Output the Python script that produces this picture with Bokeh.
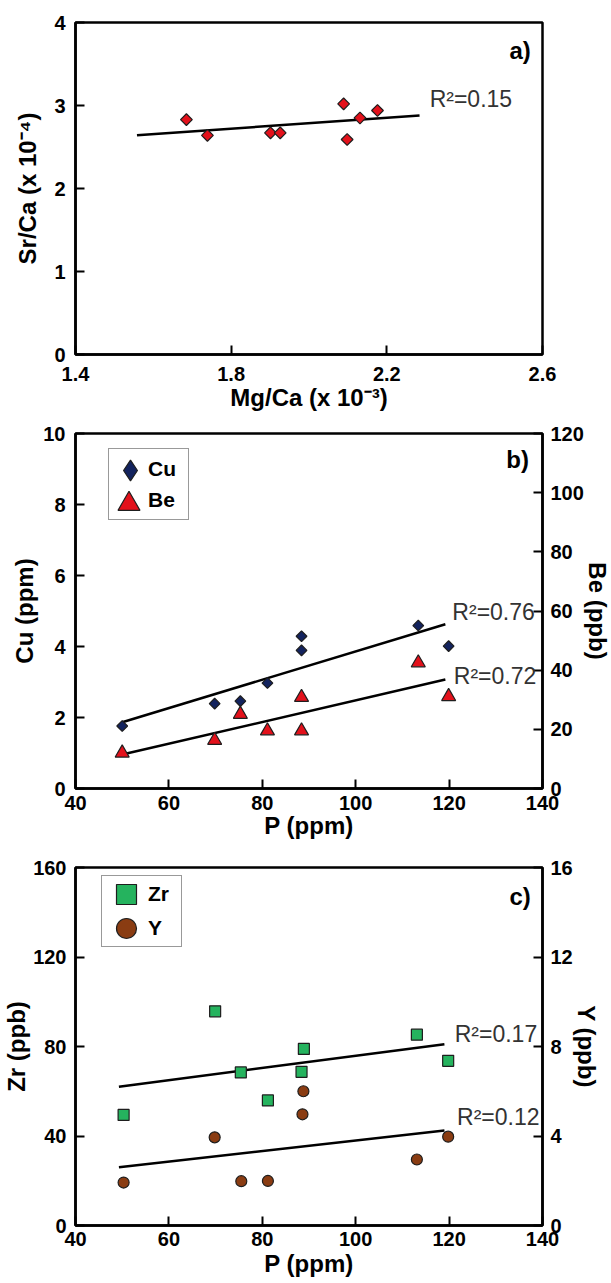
import numpy as np
from bokeh.plotting import figure
from bokeh.models import Range1d, LinearAxis, FixedTicker, Label, Legend, LegendItem
from bokeh.layouts import column
from bokeh.embed import file_html
from bokeh.resources import INLINE

# ---------------- data ----------------
# panel a
mg_ca = [1.685, 1.739, 1.901, 1.926, 2.089, 2.098, 2.131, 2.176]
sr_ca = [2.83, 2.64, 2.67, 2.67, 3.02, 2.59, 2.85, 2.94]
trend_a_x = [1.558, 2.284]
ticks_a_x = [1.4, 1.8, 2.2, 2.6]
ticks_a_y = [0, 1, 2, 3, 4]

# panel b
p_cu = [50.0, 69.8, 75.3, 81.1, 88.4, 88.4, 113.4, 119.9]
cu = [1.76, 2.39, 2.46, 2.97, 3.89, 4.29, 4.59, 4.01]
p_be = [50.0, 69.8, 75.3, 81.1, 88.4, 88.4, 113.4, 119.9]
be = [12.0, 16.3, 25.1, 19.5, 30.8, 19.5, 42.5, 31.1]
trend_b_x = [50.0, 119.2]
ticks_p = [40, 60, 80, 100, 120, 140]
ticks_cu = [0, 2, 4, 6, 8, 10]
ticks_be = [0, 20, 40, 60, 80, 100, 120]

# panel c
p_zr = [50.3, 69.9, 75.4, 81.2, 88.4, 88.9, 113.1, 119.8]
zr = [49.4, 95.7, 68.4, 55.9, 68.7, 78.9, 85.3, 73.6]
p_y = [50.3, 69.8, 75.5, 81.2, 88.6, 88.8, 113.1, 119.8]
y_ppb = [1.92, 3.94, 1.98, 1.99, 4.97, 6.0, 2.95, 3.97]
trend_c_x = [49.3, 119.0]
ticks_zr = [0, 40, 80, 120, 160]
ticks_y = [0, 4, 8, 12, 16]

r2_text = {"a": ["R²=0.15"], "b": ["R²=0.76", "R²=0.72"], "c": ["R²=0.17", "R²=0.12"]}

# ---------------- style ----------------
FONT = "Liberation Sans"
RED = "#e3111b"
NAVY = "#13235e"
GREEN = "#25b35e"
BROWN = "#8a3c12"
EDGE = "#1e1e1e"
FW = 467


def style_axis(ax, ticks, label_standoff=9, title_standoff=0):
    ax.ticker = FixedTicker(ticks=ticks)
    ax.axis_line_width = 2.5
    ax.axis_line_color = "black"
    ax.major_tick_in = 9
    ax.major_tick_out = 0
    ax.major_tick_line_width = 2
    ax.major_tick_line_color = "black"
    ax.minor_tick_in = 0
    ax.minor_tick_out = 0
    ax.major_label_text_font = FONT
    ax.major_label_text_font_style = "bold"
    ax.major_label_text_font_size = "20px"
    ax.major_label_text_color = "black"
    ax.major_label_standoff = label_standoff
    ax.axis_label_text_font = FONT
    ax.axis_label_text_font_style = "bold"
    ax.axis_label_text_font_size = "24px"
    ax.axis_label_text_color = "black"
    ax.axis_label_standoff = title_standoff


def make_fig(xr, yr, fh, top, bottom):
    p = figure(frame_width=FW, frame_height=fh,
               x_range=Range1d(*xr), y_range=Range1d(*yr),
               output_backend="svg", toolbar_location=None,
               min_border_left=75, min_border_right=68,
               min_border_top=top, min_border_bottom=bottom)
    p.grid.visible = False
    p.outline_line_color = "black"
    p.outline_line_width = 2.5
    p.outline_line_alpha = 1
    p.background_fill_color = "white"
    p.border_fill_color = "white"
    return p


def add_label(p, x, y, text, size="23px", bold=False, align="left", color="#333333"):
    p.add_layout(Label(x=x, y=y, text=text, text_font=FONT, text_font_size=size,
                       text_font_style="bold" if bold else "normal",
                       text_align=align, text_baseline="middle", text_color=color))


def trend(x, y, xs):
    coef = np.polyfit(x, y, 1)
    return list(np.polyval(coef, xs))


def text_legend(labels, loc, pad, gw, gh, standoff, lw):
    # framed box holding the legend texts
    return Legend(items=[LegendItem(label=t, renderers=[]) for t in labels],
                  location=loc, glyph_width=gw, glyph_height=gh, spacing=0,
                  padding=pad, margin=0, label_standoff=standoff, label_width=lw,
                  border_line_color="#333333", border_line_width=1.5,
                  background_fill_color="white", background_fill_alpha=1,
                  label_text_font=FONT, label_text_font_style="bold",
                  label_text_font_size="21px", label_text_color="black")


def key_legend(renderer, loc, g):
    # transparent legend that only draws the large marker key
    return Legend(items=[LegendItem(label="", renderers=[renderer])],
                  location=loc, glyph_width=g, glyph_height=g, spacing=0,
                  padding=0, margin=0, label_standoff=0, label_width=0, label_height=0,
                  border_line_alpha=0, background_fill_alpha=0,
                  label_text_font_size="1px")


# ---------------- panel a ----------------
pa = make_fig((1.4, 2.6), (0, 4), 332, 22, 62)
pa.xaxis.axis_label = "Mg/Ca (x 10⁻³)"
pa.yaxis.axis_label = "Sr/Ca (x 10⁻⁴)"
style_axis(pa.xaxis[0], ticks_a_x, label_standoff=12, title_standoff=0)
style_axis(pa.yaxis[0], ticks_a_y, label_standoff=10, title_standoff=10)
pa.line(trend_a_x, trend(mg_ca, sr_ca, trend_a_x), line_color="black", line_width=2.5)
pa.scatter(mg_ca, sr_ca, marker="square", angle=np.pi / 4, size=8.3,
           fill_color=RED, line_color=EDGE, line_width=1.2)
add_label(pa, 2.31, 3.08, r2_text["a"][0])
add_label(pa, 2.57, 3.66, "a)", size="24px", bold=True, align="right", color="black")

# ---------------- panel b ----------------
pb = make_fig((40, 140), (0, 10), 355, 17, 62)
pb.extra_y_ranges = {"be": Range1d(0, 120)}
pb.xaxis.axis_label = "P (ppm)"
pb.yaxis.axis_label = "Cu (ppm)"
style_axis(pb.xaxis[0], ticks_p, label_standoff=7, title_standoff=-1)
style_axis(pb.yaxis[0], ticks_cu, label_standoff=10, title_standoff=2)
ax_be = LinearAxis(y_range_name="be", axis_label="Be (ppb)")
style_axis(ax_be, ticks_be, label_standoff=8, title_standoff=-3)
pb.add_layout(ax_be, "right")
pb.line(trend_b_x, trend(p_cu, cu, trend_b_x), line_color="black", line_width=2.5)
pb.line(trend_b_x, trend(p_be, be, trend_b_x), line_color="black", line_width=2.5, y_range_name="be")
r_cu = pb.scatter(p_cu, cu, marker="square", angle=np.pi / 4, size=7.6,
                  fill_color=NAVY, line_color=EDGE, line_width=1.2)
r_be = pb.scatter(p_be, be, marker="triangle", size=14, y_range_name="be",
                  fill_color=RED, line_color=EDGE, line_width=1.2)
r_cu_key = pb.scatter(p_cu, cu, marker="diamond", visible=False,
                      fill_color=NAVY, line_color=EDGE, line_width=1.2)
add_label(pb, 120.7, 4.98, r2_text["b"][0])
add_label(pb, 121.0, 3.18, r2_text["b"][1])
add_label(pb, 137.1, 9.28, "b)", size="24px", bold=True, align="right", color="black")
pb.add_layout(text_legend(["Cu", "Be"], (33, 268), 4, 31, 31, 4, 36))
pb.add_layout(key_legend(r_cu_key, (29, 292), 52))
pb.add_layout(key_legend(r_be, (26, 257), 55))

# ---------------- panel c ----------------
pc = make_fig((40, 140), (0, 160), 358, 17, 58)
pc.extra_y_ranges = {"yy": Range1d(0, 16)}
pc.xaxis.axis_label = "P (ppm)"
pc.yaxis.axis_label = "Zr (ppb)"
style_axis(pc.xaxis[0], ticks_p, label_standoff=6, title_standoff=1)
style_axis(pc.yaxis[0], ticks_zr, label_standoff=9, title_standoff=0)
ax_y = LinearAxis(y_range_name="yy", axis_label="Y (ppb)")
style_axis(ax_y, ticks_y, label_standoff=8, title_standoff=-3)
pc.add_layout(ax_y, "right")
pc.line(trend_c_x, trend(p_zr, zr, trend_c_x), line_color="black", line_width=2.5)
pc.line(trend_c_x, trend(p_y, y_ppb, trend_c_x), line_color="black", line_width=2.5, y_range_name="yy")
r_zr = pc.scatter(p_zr, zr, marker="square", size=11,
                  fill_color=GREEN, line_color=EDGE, line_width=1.2)
r_y = pc.scatter(p_y, y_ppb, marker="circle", size=11, y_range_name="yy",
                 fill_color=BROWN, line_color=EDGE, line_width=1.2)
add_label(pc, 121.2, 85.6, r2_text["c"][0])
add_label(pc, 121.7, 48.7, r2_text["c"][1])
add_label(pc, 137.5, 146.9, "c)", size="24px", bold=True, align="right", color="black")
pc.add_layout(text_legend(["Zr", "Y"], (26, 278), 1, 40, 34, 5, 32))
pc.add_layout(key_legend(r_zr, (26, 306), 50))
pc.add_layout(key_legend(r_y, (26, 272), 50))

layout = column(pa, pb, pc)
open("out.html", "w").write(file_html(layout, INLINE))
